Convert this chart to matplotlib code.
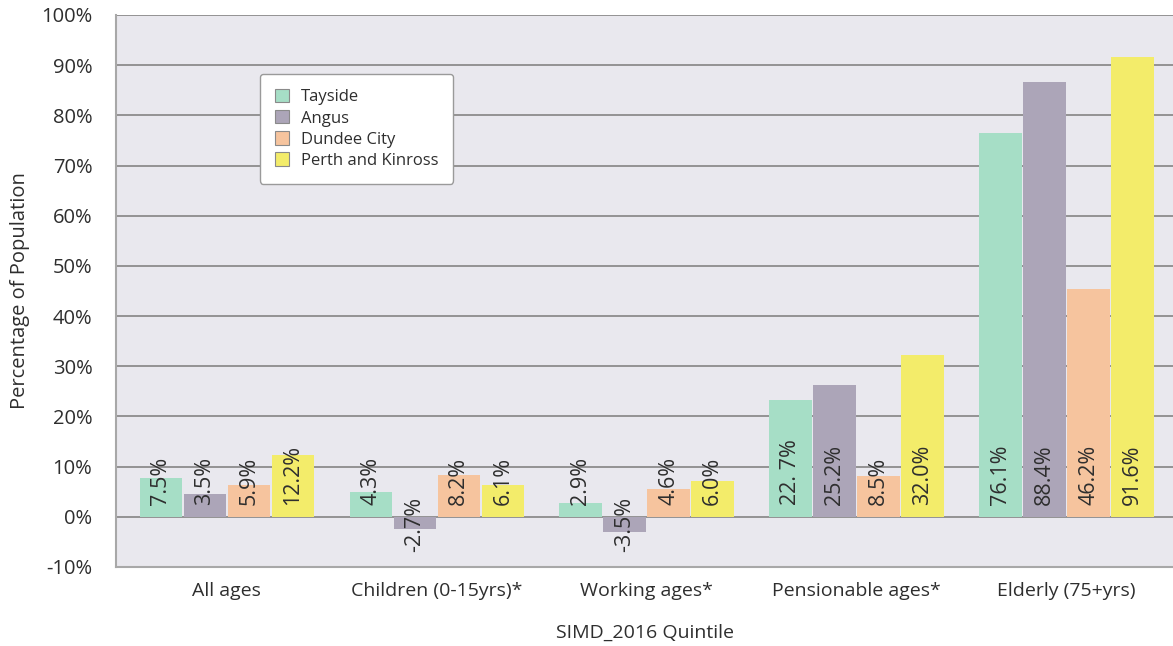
import matplotlib
matplotlib.use("Agg")
import matplotlib.pyplot as plt
import numpy as np

categories = ["All ages", "Children (0-15yrs)*", "Working ages*", "Pensionable ages*", "Elderly (75+yrs)"]
series = ["Tayside", "Angus", "Dundee City", "Perth and Kinross"]
# bar heights as drawn (percent)
tayside = [7.8, 4.9, 2.7, 23.2, 76.4]
angus = [4.5, -2.5, -3.1, 26.3, 86.7]
dundee = [6.3, 8.3, 5.5, 8.2, 45.4]
perth = [12.3, 6.3, 7.1, 32.3, 91.6]
# data labels as printed
tayside_lbl = ["7.5%", "4.3%", "2.9%", "22. 7%", "76.1%"]
angus_lbl = ["3.5%", "-2.7%", "-3.5%", "25.2%", "88.4%"]
dundee_lbl = ["5.9%", "8.2%", "4.6%", "8.5%", "46.2%"]
perth_lbl = ["12.2%", "6.1%", "6.0%", "32.0%", "91.6%"]
yticks = [-10, 0, 10, 20, 30, 40, 50, 60, 70, 80, 90, 100]

colors = ["#A6DEC6", "#ACA5B8", "#F6C49E", "#F3EC6A"]
values = [tayside, angus, dundee, perth]
labels = [tayside_lbl, angus_lbl, dundee_lbl, perth_lbl]

plt.rcParams['font.family'] = ['Open Sans', 'DejaVu Sans']

fig = plt.figure(figsize=(11.73, 6.46), dpi=100)
ax = fig.add_axes([116/1173, 79/646, 1 - 116/1173, 552/646])
ax.set_facecolor("#E9E8EE")

x = np.arange(len(categories))
pitch = 0.2096
width = 0.2025
txt = "#2E2E2E"
for i, (vals, lbls, c, name) in enumerate(zip(values, labels, colors, series)):
    pos = x + (i - 1.5) * pitch
    ax.bar(pos, vals, width=width, color=c, label=name, zorder=3)
    for px, v, t in zip(pos, vals, lbls):
        if v >= 0:
            ax.text(px, 2.3, t, rotation=90, ha="center", va="bottom",
                    fontsize=15.5, color=txt, zorder=4)
        else:
            ax.text(px, -1.5, t, rotation=90, ha="center", va="center",
                    fontsize=15.5, color=txt, zorder=4)

ax.set_ylim(-10, 100)
ax.set_xlim(-0.528, 4.507)
ax.set_yticks(yticks)
ax.set_yticklabels([f"{t}%" for t in yticks], fontsize=14.5, color=txt)
ax.set_xticks(x)
ax.set_xticklabels(categories, fontsize=14, color=txt)
ax.tick_params(axis="both", length=0)
ax.tick_params(axis="y", pad=17)
ax.tick_params(axis="x", pad=11)
ax.yaxis.grid(True, color="#8C8C8C", linewidth=1.3, zorder=0)
ax.set_axisbelow(True)
for s in ["top", "right"]:
    ax.spines[s].set_visible(False)
for s in ["left", "bottom"]:
    ax.spines[s].set_color("#A8A8A8")
    ax.spines[s].set_linewidth(1.5)

ax.set_ylabel("Percentage of Population", fontsize=14.5, color=txt, labelpad=8)
ax.set_xlabel("SIMD_2016 Quintile", fontsize=14, color=txt, labelpad=17)

leg = ax.legend(loc="upper left", bbox_to_anchor=(0.136, 0.893), fontsize=12,
                frameon=True, fancybox=True, edgecolor="#9A9A9A", facecolor="white",
                framealpha=1, handlelength=0.85, handleheight=0.85, labelspacing=0.28,
                borderpad=0.9, handletextpad=0.7, borderaxespad=0)
for h in leg.legend_handles:
    h.set_edgecolor("#8A8A8A")
    h.set_linewidth(0.8)
for t in leg.get_texts():
    t.set_color(txt)

fig.savefig("out.png", dpi=100)
